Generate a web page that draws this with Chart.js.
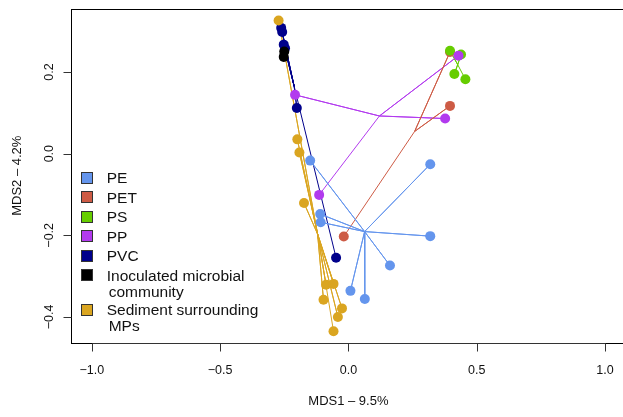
<!DOCTYPE html>
<html>
<head>
<meta charset="utf-8">
<script src="https://cdn.jsdelivr.net/npm/chart.js@4.4.1/dist/chart.umd.min.js"></script>
<style>
    html, body { margin: 0; padding: 0; background: #fff; overflow: hidden; }
    canvas { display: block; }
</style>
</head>
<body>
<canvas id="mds" width="640" height="417"></canvas>
<script>
// group labels and colours (legend order)
const groupNames = ["PE", "PET", "PS", "PP", "PVC", "Inoculated microbial\ncommunity", "Sediment surrounding\nMPs"];
const groupColors = ["#6495ED", "#CD5B45", "#66CD00", "#B23AEE", "#00008B", "#000000", "#DAA520"];

// MDS scores
const peX = [-0.149, 0.319, -0.110, -0.108, 0.319, 0.162, 0.008, 0.064];
const peY = [-0.017, -0.026, -0.148, -0.168, -0.202, -0.274, -0.336, -0.356];
const petX = [0.396, 0.396, -0.018];
const petY = [0.249, 0.117, -0.203];
const psX = [0.396, 0.439, 0.413, 0.456];
const psY = [0.252, 0.243, 0.195, 0.182];
const ppX = [0.429, -0.208, 0.377, -0.114];
const ppY = [0.240, 0.144, 0.086, -0.101];
const pvcX = [-0.262, -0.258, -0.252, -0.247, -0.201, -0.048];
const pvcY = [0.308, 0.298, 0.267, 0.258, 0.112, -0.255];
const inocX = [-0.250, -0.252];
const inocY = [0.250, 0.237];
const sedX = [-0.272, -0.199, -0.191, -0.173, -0.087, -0.058, -0.097, -0.025, -0.041, -0.058];
const sedY = [0.326, 0.035, 0.003, -0.121, -0.321, -0.319, -0.358, -0.379, -0.400, -0.435];

// axis ticks
const tickX = [-1.0, -0.5, 0.0, 0.5, 1.0];
const tickY = [-0.4, -0.2, 0.0, 0.2];

const allX = [peX, petX, psX, ppX, pvcX, inocX, sedX];
const allY = [peY, petY, psY, ppY, pvcY, inocY, sedY];

const mean = (a) => a.reduce((s, v) => s + v, 0) / a.length;
const fmt = (v) => v.toFixed(1).replace("-", "\u2212");

const FONT = '"Liberation Sans", Arial, Helvetica, sans-serif';

const datasets = [];
groupNames.forEach((name, i) => {
    const xs = allX[i], ys = allY[i];
    const pts = xs.map((v, j) => ({ x: v, y: ys[j] }));
    const c = { x: mean(xs), y: mean(ys) };
    // spider: centroid -> each point
    const spider = [];
    pts.forEach((p) => spider.push(c, p));
    datasets.push({
        type: "scatter",
        data: spider,
        showLine: true,
        borderColor: groupColors[i],
        borderWidth: 1,
        pointRadius: 0,
        fill: false,
        order: 100,
    });
    datasets.push({
        type: "scatter",
        data: pts,
        backgroundColor: groupColors[i],
        borderWidth: 0,
        pointRadius: 5,
        order: groupNames.length - i,
    });
});

// R style box, axes, labels and legend
const rFrame = {
    id: "rFrame",
    afterDraw(chart) {
        const { ctx, chartArea: a, scales } = chart;
        const sx = scales.x, sy = scales.y;
        const L = Math.round(a.left) + 0.5;
        const T = Math.round(a.top) + 0.5;
        const B = Math.round(a.bottom) + 0.5;
        ctx.save();
        ctx.strokeStyle = "#000";
        ctx.lineWidth = 1;
        ctx.strokeRect(L, T, Math.round(a.right) + 0.5 - L, B - T);

        ctx.fillStyle = "#111";
        ctx.font = "12.5px " + FONT;
        ctx.textAlign = "center";
        ctx.textBaseline = "alphabetic";

        // x axis
        ctx.beginPath();
        const x0 = Math.round(sx.getPixelForValue(tickX[0])) + 0.5;
        const x1 = Math.round(sx.getPixelForValue(tickX[tickX.length - 1])) + 0.5;
        ctx.moveTo(x0, B);
        ctx.lineTo(x1, B);
        tickX.forEach((v) => {
            const px = Math.round(sx.getPixelForValue(v)) + 0.5;
            ctx.moveTo(px, B);
            ctx.lineTo(px, B + 8);
        });
        ctx.strokeStyle = "#333";
        ctx.stroke();
        tickX.forEach((v) => {
            ctx.fillText(fmt(v), sx.getPixelForValue(v), 374);
        });

        // y axis
        ctx.beginPath();
        tickY.forEach((v) => {
            const py = Math.round(sy.getPixelForValue(v)) + 0.5;
            ctx.moveTo(L - 8, py);
            ctx.lineTo(L, py);
        });
        ctx.stroke();
        tickY.forEach((v) => {
            ctx.save();
            ctx.translate(53.3, sy.getPixelForValue(v));
            ctx.rotate(-Math.PI / 2);
            ctx.fillText(fmt(v), 0, 0);
            ctx.restore();
        });

        // axis titles
        ctx.font = "13px " + FONT;
        ctx.fillText("MDS1 \u2013 9.5%", sx.getPixelForValue(0), 404.5);
        ctx.save();
        ctx.translate(21, (a.top + a.bottom) / 2);
        ctx.rotate(-Math.PI / 2);
        ctx.fillText("MDS2 \u2013 4.2%", 0, 0);
        ctx.restore();

        // legend
        ctx.font = "15.5px " + FONT;
        ctx.textAlign = "left";
        let cy = 177.5;
        groupNames.forEach((name, i) => {
            const lines = name.split("\n");
            ctx.fillStyle = groupColors[i];
            ctx.fillRect(81, Math.round(cy) - 5, 11, 11);
            ctx.strokeStyle = "#333";
            ctx.strokeRect(81.5, Math.round(cy) - 5.5, 11, 11);
            ctx.fillStyle = "#111";
            lines.forEach((ln, k) => {
                ctx.fillText(ln, 106.7 + (k > 0 ? 2 : 0), cy + 5.5 + k * 16);
            });
            cy += 19.5 + 15 * (lines.length - 1);
        });
        ctx.restore();
    },
};

new Chart(document.getElementById("mds"), {
    data: { datasets: datasets },
    options: {
        responsive: false,
        animation: false,
        events: [],
        layout: {
            autoPadding: false,
            padding: { left: 71.3, top: 8.7, bottom: 74.3, right: 14.5 },
        },
        plugins: { legend: { display: false }, tooltip: { enabled: false } },
        scales: {
            x: { type: "linear", display: false, min: -1.08, max: 1.08 },
            y: { type: "linear", display: false, min: -0.463, max: 0.355 },
        },
    },
    plugins: [rFrame],
});
</script>
</body>
</html>
